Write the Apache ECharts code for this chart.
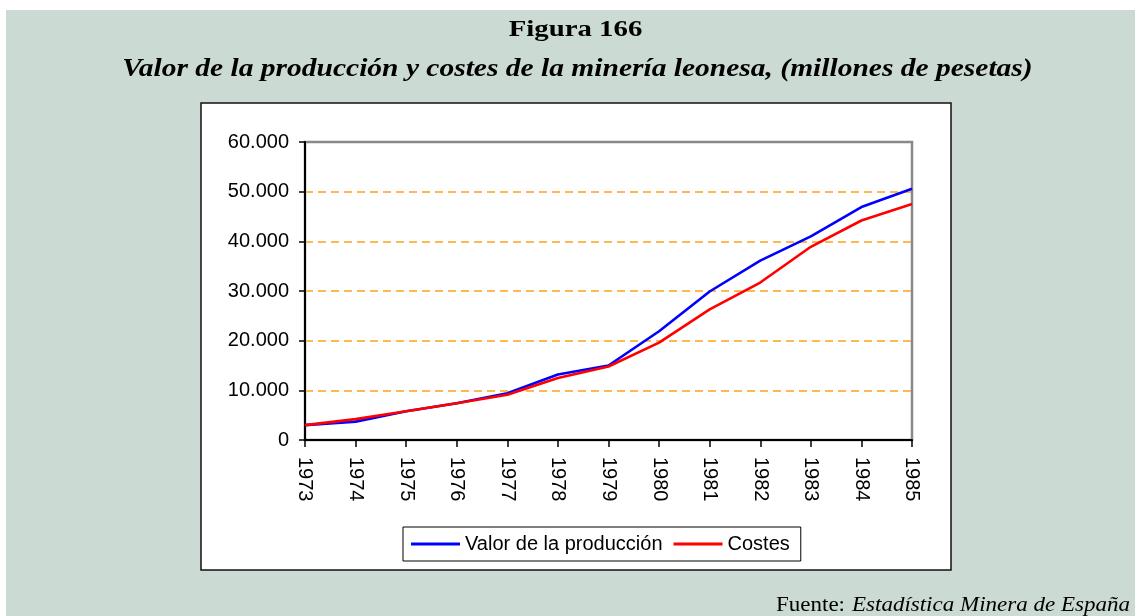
<!DOCTYPE html>
<html>
<head>
<meta charset="utf-8">
<script src="https://cdn.jsdelivr.net/npm/echarts@6/dist/echarts.min.js"></script>
<style>
  html, body { margin: 0; padding: 0; background: #ffffff; }
  #chart { width: 1135px; height: 616px; }
</style>
</head>
<body>
<div id="chart"></div>
<script>
// años (eje X)
var years = ['1973', '1974', '1975', '1976', '1977', '1978', '1979', '1980', '1981', '1982', '1983', '1984', '1985']
// millones de pesetas
var valorProduccion = [3000, 3700, 5800, 7400, 9400, 13200, 15000, 21900, 29900, 36100, 41000, 46900, 50600]
var costes = [3000, 4200, 5800, 7400, 9100, 12500, 14800, 19600, 26300, 31700, 38900, 44200, 47500]
var yTicks = { min: 0, max: 60000, interval: 10000 }
var seriesNames = ['Valor de la producción', 'Costes']

var chart = echarts.init(document.getElementById('chart'))

function miles(v) {
  return String(v).replace(/\B(?=(\d{3})+(?!\d))/g, '.')
}

var sans = 'Liberation Sans'
var serif = 'Liberation Serif'

chart.setOption({
  backgroundColor: '#ffffff',
  animation: false,
  graphic: [
    // fondo verde
    { type: 'rect', z: -10, shape: { x: 6, y: 10, width: 1129, height: 606 }, style: { fill: '#cbdad3' } },
    // marco blanco del gráfico
    { type: 'rect', z: -9, shape: { x: 201, y: 103, width: 750, height: 467 }, style: { fill: '#ffffff', stroke: '#111', lineWidth: 1.5 } },
    {
      type: 'text', x: 575.5, y: 18, scaleX: 1.2,
      style: { text: 'Figura 166', fontFamily: serif, fontWeight: 'bold', fontSize: 24, fill: '#000', align: 'center', verticalAlign: 'top' }
    },
    {
      type: 'text', x: 577.5, y: 57, scaleX: 1.18,
      style: { text: 'Valor de la producción y costes de la minería leonesa, (millones de pesetas)', fontFamily: serif, fontWeight: 'bold', fontStyle: 'italic', fontSize: 25, fill: '#000', align: 'center', verticalAlign: 'top' }
    },
    {
      type: 'text', x: 776, y: 596, scaleX: 1.15,
      style: { text: 'Fuente:', fontFamily: serif, fontSize: 20, fill: '#000', verticalAlign: 'top' }
    },
    {
      type: 'text', x: 852, y: 596, scaleX: 1.15,
      style: { text: 'Estadística Minera de España', fontFamily: serif, fontStyle: 'italic', fontSize: 20, fill: '#000', verticalAlign: 'top' }
    }
  ],
  grid: {
    left: 305,
    top: 142,
    right: 223,
    bottom: 176,
    show: true,
    backgroundColor: '#ffffff',
    borderColor: '#888888',
    borderWidth: 2.5
  },
  legend: {
    data: seriesNames,
    left: 403,
    top: 527,
    padding: [7, 11, 7, 8],
    itemGap: 11,
    itemWidth: 49,
    itemHeight: 3,
    icon: 'rect',
    backgroundColor: '#ffffff',
    borderColor: '#000',
    borderWidth: 1,
    borderRadius: 0,
    textStyle: { fontFamily: sans, fontSize: 20, color: '#000' }
  },
  xAxis: {
    type: 'category',
    data: years,
    boundaryGap: false,
    axisLine: { lineStyle: { color: '#000', width: 2 } },
    axisTick: { alignWithLabel: true, length: 7, lineStyle: { color: '#000', width: 1.5 } },
    axisLabel: { rotate: -90, margin: 17, fontFamily: sans, fontSize: 20, color: '#000', interval: 0 },
    splitLine: { show: false }
  },
  yAxis: {
    type: 'value',
    min: yTicks.min,
    max: yTicks.max,
    interval: yTicks.interval,
    axisLine: { show: true, lineStyle: { color: '#000', width: 2 } },
    axisTick: { show: true, length: 6, lineStyle: { color: '#000', width: 1.5 } },
    axisLabel: { margin: 16, fontFamily: sans, fontSize: 20, color: '#000', formatter: miles },
    splitLine: { show: true, showMinLine: false, showMaxLine: false, lineStyle: { color: '#ffa31a', width: 1.5, type: [8, 5] } }
  },
  series: [
    {
      name: seriesNames[0],
      type: 'line',
      data: valorProduccion,
      symbol: 'none',
      itemStyle: { color: '#0000ff' },
      lineStyle: { color: '#0000ff', width: 2.6 }
    },
    {
      name: seriesNames[1],
      type: 'line',
      data: costes,
      symbol: 'none',
      itemStyle: { color: '#ff0000' },
      lineStyle: { color: '#ff0000', width: 2.6 }
    }
  ]
})
</script>
</body>
</html>
